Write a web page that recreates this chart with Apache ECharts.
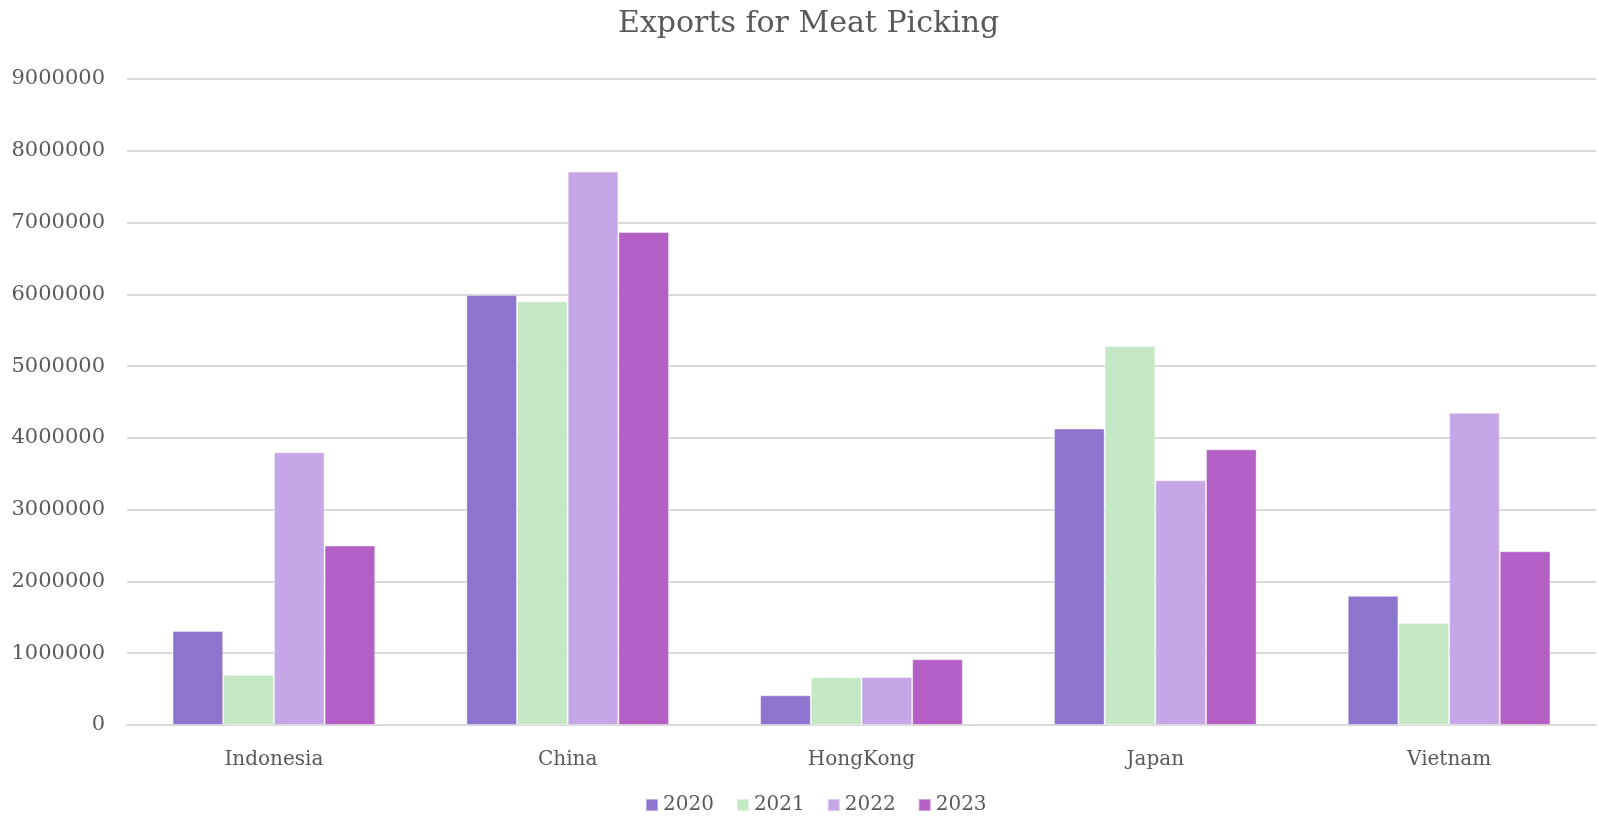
<!DOCTYPE html>
<html><head><meta charset="utf-8">
<script src="https://cdn.jsdelivr.net/npm/echarts@6/dist/echarts.min.js"></script>
<style>html,body{margin:0;padding:0;background:#fff}#c{width:1599px;height:822px}</style>
</head><body><div id="c"></div>
<script>
const categories = ['Indonesia', 'China', 'HongKong', 'Japan', 'Vietnam'];
const years = ['2020', '2021', '2022', '2023'];
const v2020 = [1310000, 5990000, 414000, 4130000, 1800000];
const v2021 = [700000, 5900000, 666000, 5280000, 1420000];
const v2022 = [3800000, 7710000, 668000, 3410000, 4350000];
const v2023 = [2500000, 6870000, 917000, 3840000, 2420000];
const yTicks = [0, 1000000, 2000000, 3000000, 4000000, 5000000, 6000000, 7000000, 8000000, 9000000];

const colors = ['#8C75CF', '#C4E8C5', '#C5A7E8', '#B35FC6'];
const seriesData = [v2020, v2021, v2022, v2023];
const font = 'DejaVu Serif';
const chart = echarts.init(document.getElementById('c'));
chart.setOption({
  animation: false,
  color: colors,
  title: {
    text: 'Exports for Meat Picking', left: 613, top: 4,
    textStyle: { fontFamily: font, fontSize: 30, fontWeight: 'normal', color: '#595959' }
  },
  legend: {
    data: years, bottom: 2, left: 640, itemWidth: 12, itemHeight: 12, itemGap: 22,
    icon: 'rect',
    textStyle: { fontFamily: font, fontSize: 20, color: '#595959' }
  },
  grid: { left: 127, right: 3, top: 79, bottom: 97, containLabel: false },
  xAxis: {
    type: 'category', data: categories,
    axisLine: { lineStyle: { color: '#D9D9D9', width: 2 } },
    axisTick: { show: false },
    axisLabel: { fontFamily: font, fontSize: 20, color: '#595959', margin: 25 }
  },
  yAxis: {
    type: 'value', min: yTicks[0], max: yTicks[yTicks.length - 1], interval: yTicks[1] - yTicks[0],
    axisLine: { show: false }, axisTick: { show: false },
    splitLine: { lineStyle: { color: '#D9D9D9', width: 2 } },
    axisLabel: { fontFamily: font, fontSize: 21, color: '#595959', margin: 22,
      formatter: v => String(v) }
  },
  series: years.map((y, i) => ({
    name: y, type: 'bar', data: seriesData[i],
    barGap: '0%', barCategoryGap: '31%',
    itemStyle: { color: colors[i], borderColor: 'rgba(255,255,255,0.4)', borderWidth: 1 }
  }))
});
</script></body></html>
